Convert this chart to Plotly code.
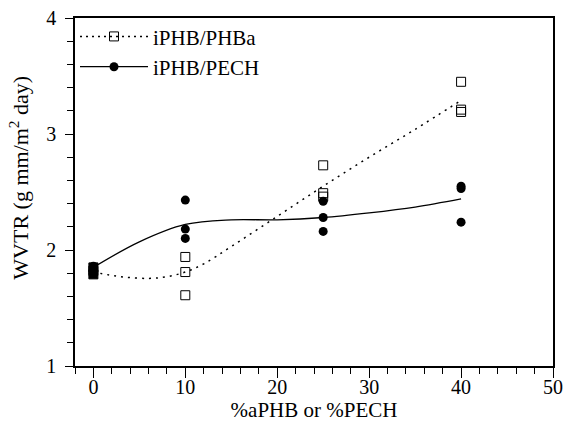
import plotly.graph_objects as go

# measured data points
phba_x = [0, 0, 0, 10, 10, 10, 25, 25, 25, 40, 40, 40]
phba_y = [1.79, 1.82, 1.85, 1.94, 1.81, 1.61, 2.73, 2.49, 2.46, 3.45, 3.21, 3.19]
pech_x = [0, 0, 0, 10, 10, 10, 25, 25, 25, 40, 40, 40]
pech_y = [1.80, 1.83, 1.86, 2.43, 2.18, 2.10, 2.42, 2.28, 2.16, 2.55, 2.53, 2.24]

# fitted curves
phba_fit_x = [0, 3, 6, 8, 10, 12, 15, 20, 25, 30, 35, 40]
phba_fit_y = [1.81, 1.77, 1.755, 1.77, 1.81, 1.88, 2.03, 2.29, 2.55, 2.80, 3.04, 3.29]
pech_fit_x = [0, 5, 10, 15, 20, 25, 30, 35, 40]
pech_fit_y = [1.85, 2.07, 2.22, 2.26, 2.26, 2.28, 2.32, 2.37, 2.44]

x_ticks = [0, 10, 20, 30, 40, 50]
y_ticks = [1, 2, 3, 4]

FONT = "Liberation Serif"

fig = go.Figure()
fig.add_trace(go.Scatter(
    x=phba_fit_x, y=phba_fit_y, mode="lines", line_shape="spline",
    line=dict(color="black", width=1.5, dash="2px,5px"),
    showlegend=False, hoverinfo="skip"))
fig.add_trace(go.Scatter(
    x=pech_fit_x, y=pech_fit_y, mode="lines", line_shape="spline",
    line=dict(color="black", width=1.3),
    showlegend=False, hoverinfo="skip"))
fig.add_trace(go.Scatter(
    x=phba_x, y=phba_y, mode="markers", name="iPHB/PHBa",
    marker=dict(symbol=["square" if v == 0 else "square-open" for v in phba_x],
                size=9, color="black", line=dict(color="black", width=1)),
    showlegend=False))
fig.add_trace(go.Scatter(
    x=pech_x, y=pech_y, mode="markers", name="iPHB/PECH",
    marker=dict(symbol="circle", size=9, color="black"),
    showlegend=False))
# legend entries
fig.add_trace(go.Scatter(
    x=[None], y=[None], mode="lines+markers", name="iPHB/PHBa",
    line=dict(color="black", width=1.5, dash="2px,4px"),
    marker=dict(symbol="square-open", size=9, color="black", line=dict(width=1))))
fig.add_trace(go.Scatter(
    x=[None], y=[None], mode="lines+markers", name="iPHB/PECH",
    line=dict(color="black", width=1.3),
    marker=dict(symbol="circle", size=9, color="black")))

axis_common = dict(
    showgrid=False, zeroline=False, showline=True, linecolor="black",
    linewidth=1.5, mirror=True, ticks="outside", tickcolor="black",
    tickwidth=1.3, automargin=False, ticklabeloverflow="allow",
    tickfont=dict(family=FONT, size=20, color="black"))

fig.update_xaxes(
    range=[-2, 50], tickvals=x_ticks, ticklen=10, ticklabelstandoff=-8,
    minor=dict(dtick=2, tick0=0, ticks="outside", ticklen=6, tickcolor="black", tickwidth=1.2),
    title=dict(text="%aPHB or %PECH", font=dict(family=FONT, size=21, color="black"), standoff=0),
    **axis_common)
fig.update_yaxes(
    range=[1, 4], tickvals=y_ticks, ticklen=8, ticklabelstandoff=5,
    minor=dict(dtick=0.2, tick0=1, ticks="outside", ticklen=6, tickcolor="black", tickwidth=1.2),
    **axis_common)

fig.add_annotation(
    text="WVTR (g mm/m<sup>2</sup> day)", textangle=-90,
    xref="paper", yref="paper", x=-0.118, y=0.54, xanchor="center", yanchor="middle",
    showarrow=False, font=dict(family=FONT, size=22, color="black"))

fig.update_layout(
    width=565, height=437,
    margin=dict(l=75, r=12, t=18, b=71),
    paper_bgcolor="white", plot_bgcolor="white",
    legend=dict(x=0.0, y=1.005, xanchor="left", yanchor="top",
                bgcolor="rgba(0,0,0,0)", itemwidth=68, tracegroupgap=0,
                font=dict(family=FONT, size=21, color="black")),
)

fig.write_html("out.html")
